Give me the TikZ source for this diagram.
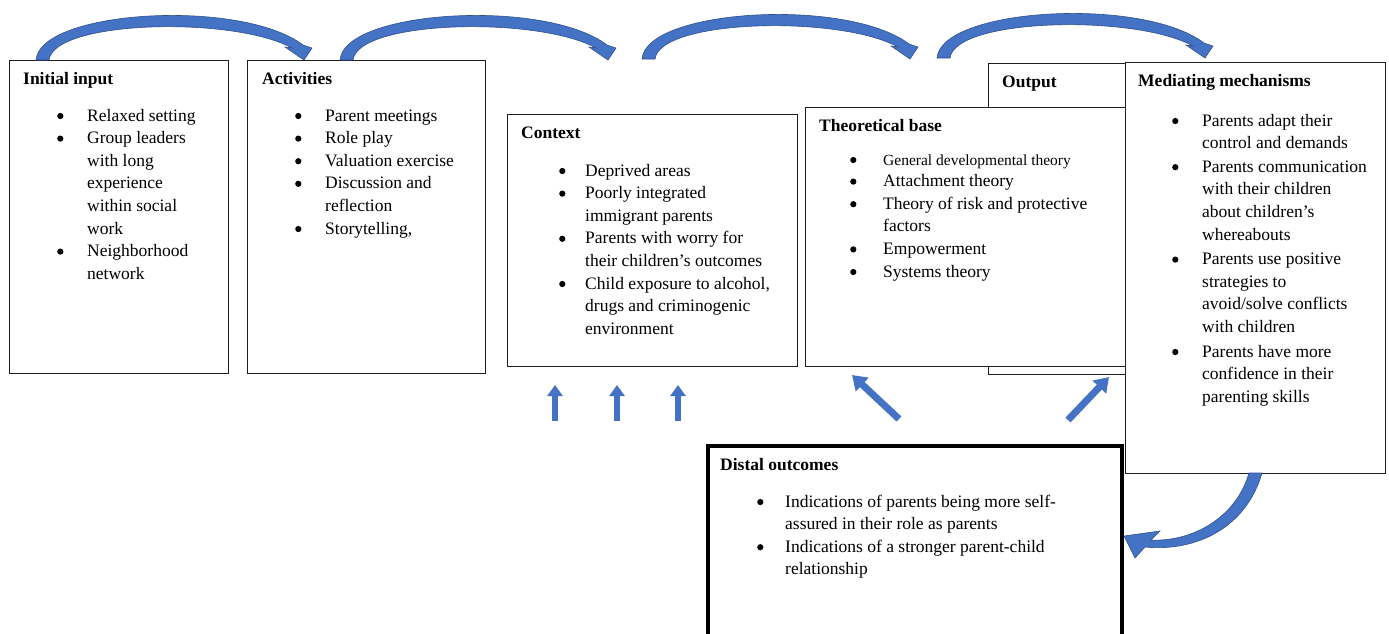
\documentclass[tikz,border=0pt]{standalone}
\usepackage{fontspec}
\setmainfont{Liberation Serif}
\usetikzlibrary{arrows.meta}
\definecolor{arrfill}{RGB}{68,114,196}
\definecolor{arrline}{RGB}{47,82,143}
\definecolor{boxline}{RGB}{30,30,30}
\newcommand{\dgfont}{\fontsize{17.5}{22.6}\selectfont}
\newcommand{\dgsmall}{\fontsize{15.5}{22.6}\selectfont}
\newcommand{\dgbul}{\tikz[baseline=0pt]\fill[black] (3pt,5pt) circle (3.1pt);}
\begin{document}
\begin{tikzpicture}[x=1pt,y=-1pt,
  box/.style={draw=boxline, line width=1.2pt, fill=white, inner sep=0pt, anchor=north west},
  ttl/.style={anchor=base west, inner sep=0pt, font=\dgfont\bfseries},
  lst/.style={anchor=base west, inner sep=0pt, font=\dgfont},
  uparr/.style={draw=arrfill, line width=6.5pt, -{Triangle[width=15pt,length=11pt]}},
  diagarr/.style={draw=arrfill, line width=7pt, -{Triangle[width=18pt,length=14pt]}},
  bfill/.style={fill=arrfill, draw=arrline, line width=0.6pt},
  toparrow/.pic={
    \path[bfill] (0,0) .. controls (4,-50) and (205,-62) .. (267,-15)
      -- (276,-12) -- (268,0) -- (249,-13) -- (256,-12)
      .. controls (198,-44) and (18,-40) .. (13,0) -- cycle;
  }]
\useasboundingbox (0,0) rectangle (1389,633);
\fill[white] (0,0) rectangle (1389,633);
\clip (0,0) rectangle (1389,633);

% boxes
\node[box, minimum width=219pt, minimum height=313pt] (init) at (9,60) {};
\node[box, minimum width=238pt, minimum height=313pt] (act) at (247,60) {};
\node[box, minimum width=290pt, minimum height=252pt] (ctx) at (507,114) {};
\node[box, minimum width=140pt, minimum height=311pt] (outp) at (988,63) {};
\node[box, minimum width=320pt, minimum height=259pt] (theo) at (805,107) {};
\node[box, minimum width=260pt, minimum height=411pt] (med) at (1125,62) {};
\node[box, draw=black, line width=3.5pt, minimum width=414pt, minimum height=230pt] (dist) at (706,444) {};

% titles
\node[ttl] (initT) at (23,84) {Initial input};
\node[ttl] (actT) at (262,84) {Activities};
\node[ttl] (ctxT) at (521,138) {Context};
\node[ttl] (theoT) at (819,131) {Theoretical base};
\node[ttl] (outpT) at (1002,87) {Output};
\node[ttl] (medT) at (1138,86) {Mediating mechanisms};
\node[ttl] (distT) at (720,470) {Distal outcomes};

% lists
\node[lst] (initL) at (57,121) {\begin{tabular}[t]{@{}p{30pt}@{}l@{}}
\dgbul & Relaxed setting\\
\dgbul & Group leaders\\
 & with long\\
 & experience\\
 & within social\\
 & work\\
\dgbul & Neighborhood\\
 & network
\end{tabular}};

\node[lst] (actL) at (295,121) {\begin{tabular}[t]{@{}p{30pt}@{}l@{}}
\dgbul & Parent meetings\\
\dgbul & Role play\\
\dgbul & Valuation exercise\\
\dgbul & Discussion and\\
 & reflection\\
\dgbul & Storytelling,
\end{tabular}};

\node[lst] (ctxL) at (559,176) {\begin{tabular}[t]{@{}p{26pt}@{}l@{}}
\dgbul & Deprived areas\\
\dgbul & Poorly integrated\\
 & immigrant parents\\
\dgbul & Parents with worry for\\
 & their children’s outcomes\\
\dgbul & Child exposure to alcohol,\\
 & drugs and criminogenic\\
 & environment
\end{tabular}};

\node[lst] (theoL) at (850,165) {\begin{tabular}[t]{@{}p{33pt}@{}l@{}}
\dgbul & {\dgsmall General developmental theory}\\[-1pt]
\dgbul & Attachment theory\\
\dgbul & Theory of risk and protective\\
 & factors\\
\dgbul & Empowerment\\
\dgbul & Systems theory
\end{tabular}};

\node[lst] (medL) at (1172,126) {\begin{tabular}[t]{@{}p{30pt}@{}l@{}}
\dgbul & Parents adapt their\\
 & control and demands\\[1pt]
\dgbul & Parents communication\\
 & with their children\\
 & about children’s\\
 & whereabouts\\[2pt]
\dgbul & Parents use positive\\
 & strategies to\\
 & avoid/solve conflicts\\
 & with children\\[2pt]
\dgbul & Parents have more\\
 & confidence in their\\
 & parenting skills
\end{tabular}};

\node[lst] (distL) at (757,507) {\begin{tabular}[t]{@{}p{28pt}@{}l@{}}
\dgbul & Indications of parents being more self-\\
 & assured in their role as parents\\
\dgbul & Indications of a stronger parent-child\\
 & relationship
\end{tabular}};

% top curved arrows
\coordinate (a1) at (36,60);
\coordinate (a2) at (340,60);
\coordinate (a3) at (642,59);
\coordinate (a4) at (937,58);
\pic at (a1) {toparrow};
\pic at (a2) {toparrow};
\pic at (a3) {toparrow};
\pic at (a4) {toparrow};

% small up arrows
\coordinate (u1s) at (555,421); \coordinate (u1e) at (555,385);
\coordinate (u2s) at (617,421); \coordinate (u2e) at (617,385);
\coordinate (u3s) at (678,421); \coordinate (u3e) at (678,385);
\draw[uparr] (u1s) -- (u1e);
\draw[uparr] (u2s) -- (u2e);
\draw[uparr] (u3s) -- (u3e);

% diagonal arrows
\coordinate (d1s) at (899,419); \coordinate (d1e) at (852,375);
\coordinate (d2s) at (1068,420); \coordinate (d2e) at (1109,377);
\draw[diagarr] (d1s) -- (d1e);
\draw[diagarr] (d2s) -- (d2e);

% bottom curved arrow from mediating to distal
\path[bfill] (1262,473) .. controls (1246,528) and (1196,552) .. (1145,547)
  -- (1135,558) -- (1124,536) -- (1160,531) -- (1151,540)
  .. controls (1192,542) and (1236,518) .. (1249,473) -- cycle;
\end{tikzpicture}
\end{document}
